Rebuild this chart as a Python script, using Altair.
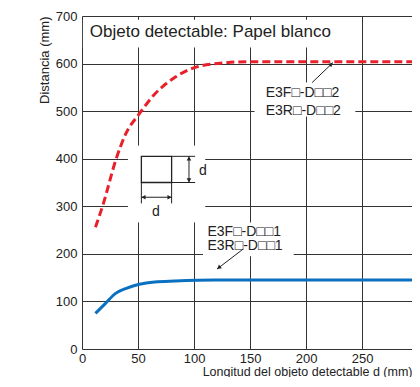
import altair as alt
import pandas as pd

# ---- data ----
red_x = [12, 19, 30, 39, 51, 65, 83, 101, 125, 150, 200, 250, 300]
red_y = [256, 305, 396, 452, 494, 536, 571, 592, 601, 604, 604, 604, 604]
blue_x = [12, 21, 30, 39, 51, 65, 83, 119, 150, 200, 250, 300]
blue_y = [75, 96, 117, 127, 136, 141, 143, 145, 145, 145, 145, 145]

x_ticks = [0, 50, 100, 150, 200, 250, 300]
y_ticks = [0, 100, 200, 300, 400, 500, 600, 700]

title_text = "Objeto detectable: Papel blanco"
label2_lines = ["E3F\u25a1-D\u25a1\u25a12", "E3R\u25a1-D\u25a1\u25a12"]
label1_lines = ["E3F\u25a1-D\u25a1\u25a11", "E3R\u25a1-D\u25a1\u25a11"]

# annotation anchors (data units)
box_x = [0.8, 154, 108, 41]
box_x2 = [234, 244, 189, 110]
box_y = [692, 560, 266, 428]
box_y2 = [634, 489, 195, 266]

text_x = [7, 164, 164, 112, 112, 104.5, 66]
text_y = [667, 539, 501, 245, 216, 375, 287]
text_s = [title_text, label2_lines[0], label2_lines[1], label1_lines[0], label1_lines[1], "d", "d"]
text_size = [17, 14, 14, 14, 14, 14, 14]
text_align = ["left", "left", "left", "left", "left", "left", "center"]

seg_x = [205.4, 143.8, 80, 80, 95.5, 53, 80, 53]
seg_x2 = [224, 120.5, 101, 101, 95.5, 53, 80, 80]
seg_y = [560, 210, 405, 350, 350, 350, 350, 319]
seg_y2 = [602, 168, 405, 350, 405, 306, 306, 319]

head_x = [222, 122.6, 55.5, 77.5, 95.5, 95.5]
head_y = [597.6, 171.8, 319, 319, 399, 356]
head_angle = [46, 232, 270, 90, 0, 180]

sq_x, sq_x2, sq_y, sq_y2 = [53], [80], [405], [350]

RED = "#e8202a"
BLUE = "#0a70c0"
FONT = "Liberation Sans"

xs = alt.Scale(domain=[0, 294.6], nice=False)
ys = alt.Scale(domain=[0, 700], nice=False)

df_red = pd.DataFrame({"x": red_x, "y": red_y})
df_blue = pd.DataFrame({"x": blue_x, "y": blue_y})

base_x = alt.X("x:Q", scale=xs, title="Longitud del objeto detectable d (mm)",
               axis=alt.Axis(values=x_ticks, grid=True, ticks=False, domain=False,
                             labelFontSize=13, labelColor="#222", labelPadding=3,
                             titleFontSize=12.5, titleFontWeight="normal", titleColor="#222",
                             titleAnchor="end", titleBaseline="alphabetic", titleY=26,
                             gridColor="#333", gridWidth=1, labelFlush=False))
base_y = alt.Y("y:Q", scale=ys, title="Distancia (mm)",
               axis=alt.Axis(values=y_ticks, grid=True, ticks=False, domain=False,
                             labelFontSize=13, labelColor="#222", labelPadding=5,
                             titleFontSize=13, titleFontWeight="normal", titleColor="#222",
                             titleAnchor="end", titlePadding=4, gridColor="#333",
                             gridWidth=1))

boxes = alt.Chart(pd.DataFrame({"x": box_x, "x2": box_x2, "y": box_y, "y2": box_y2})).mark_rect(
    fill="white", stroke=None).encode(x=base_x, x2="x2:Q", y=base_y, y2="y2:Q")

red = alt.Chart(df_red).mark_line(color=RED, strokeWidth=3, strokeDash=[8, 4],
                                  interpolate="monotone").encode(x="x:Q", y="y:Q")
blue = alt.Chart(df_blue).mark_line(color=BLUE, strokeWidth=3,
                                    interpolate="monotone").encode(x="x:Q", y="y:Q")

square = alt.Chart(pd.DataFrame({"x": sq_x, "x2": sq_x2, "y": sq_y, "y2": sq_y2})).mark_rect(
    fill="white", stroke="#222", strokeWidth=1.3).encode(x="x:Q", x2="x2:Q", y="y:Q", y2="y2:Q")

segs = alt.Chart(pd.DataFrame({"x": seg_x, "x2": seg_x2, "y": seg_y, "y2": seg_y2})).mark_rule(
    color="#222", strokeWidth=1).encode(x="x:Q", x2="x2:Q", y="y:Q", y2="y2:Q")

heads = alt.Chart(pd.DataFrame({"x": head_x, "y": head_y, "a": head_angle})).mark_point(
    shape="triangle", filled=True, color="#222", size=22, opacity=1).encode(
    x="x:Q", y="y:Q", angle=alt.Angle("a:Q", scale=None))

df_text = pd.DataFrame({"x": text_x, "y": text_y, "t": text_s, "s": text_size, "al": text_align})
texts_left = alt.Chart(df_text[df_text["al"] == "left"]).mark_text(
    align="left", baseline="middle", color="#222", font=FONT).encode(
    x="x:Q", y="y:Q", text="t:N", size=alt.Size("s:Q", scale=None))
texts_center = alt.Chart(df_text[df_text["al"] == "center"]).mark_text(
    align="center", baseline="middle", color="#222", font=FONT).encode(
    x="x:Q", y="y:Q", text="t:N", size=alt.Size("s:Q", scale=None))

chart = alt.layer(boxes, red, blue, square, segs, heads, texts_left, texts_center).properties(
    width=330, height=333,
    padding={"left": 74, "top": 8, "right": 0, "bottom": 28},
    autosize=alt.AutoSizeParams(type="none"),
).configure_view(stroke="#111", strokeWidth=1.5).configure(font=FONT)

chart.save("out.html", embed_options={"renderer": "svg", "actions": False})
